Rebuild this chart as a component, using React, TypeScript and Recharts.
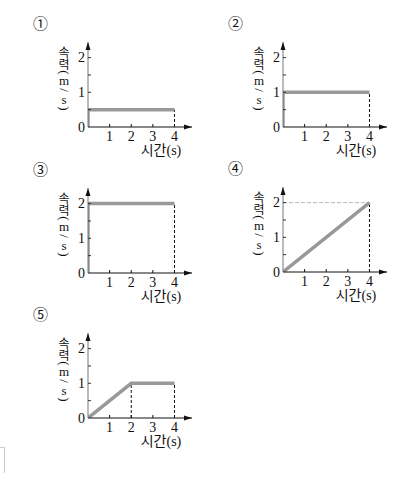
import React from "react";
import { LineChart, Line, XAxis, YAxis, ReferenceLine } from "recharts";

// speed-time graphs, t in seconds, v in m/s
const times1 = [0, 0, 4];
const speeds1 = [0, 0.5, 0.5];
const times2 = [0, 0, 4];
const speeds2 = [0, 1, 1];
const times3 = [0, 0, 4];
const speeds3 = [0, 2, 2];
const times4 = [0, 4];
const speeds4 = [0, 2];
const times5 = [0, 2, 4];
const speeds5 = [0, 1, 1];

const xTicks = [1, 2, 3, 4];
const yTicks = [0, 0.5, 1, 1.5, 2];
const X_MAX = 4.81;
const Y_MAX = 2.45;

const yLabelChars = ["속", "력", "(", "m", "/", "s", ")"];
const yLabelOffsets = [-76, -63.5, -54.5, -46.5, -37, -28, -18.5];

const SERIF = "'Liberation Serif', 'DejaVu Serif', 'Noto Sans CJK KR', serif";

const toRows = (t: number[], v: number[]) => t.map((x, i) => ({ t: x, v: v[i] }));

const XTick = (props: any) => {
  const { x, y, payload } = props;
  if (payload.value === X_MAX) {
    return (
      <g>
        <path d={`M${x} ${y} L${x - 8} ${y - 2.5} L${x - 8} ${y + 2.5} Z`} fill="#111" />
        <text x={x - 31} y={y + 28} textAnchor="middle" fontSize={14} style={{ fontFamily: SERIF }} fill="#111">
          시간(s)
        </text>
      </g>
    );
  }
  return (
    <g>
      <line x1={x} y1={y - 3} x2={x} y2={y} stroke="#111" />
      <text x={x} y={y + 14} textAnchor="middle" fontSize={14} style={{ fontFamily: SERIF }} fill="#111">
        {payload.value}
      </text>
    </g>
  );
};

const YTick = (props: any) => {
  const { x, y, payload } = props;
  const v = payload.value;
  if (v === Y_MAX) {
    const lx = x - 24;
    const oy = y + 85;
    return (
      <g>
        <path d={`M${x} ${y} L${x - 2.5} ${y + 8} L${x + 2.5} ${y + 8} Z`} fill="#111" />
        {yLabelChars.map((c, i) => {
          const cy = oy + yLabelOffsets[i];
          const rot = c === "(" || c === ")" || c === "/";
          const kor = /[가-힣]/.test(c);
          return (
            <text
              key={i}
              x={lx}
              y={cy}
              textAnchor="middle"
              dominantBaseline="central"
              fontSize={kor ? 12 : 13}
              style={{ fontFamily: kor ? "'Noto Sans CJK KR'" : SERIF }}
              fill="#111"
              transform={rot ? `rotate(90 ${lx} ${cy})` : undefined}
            >
              {c}
            </text>
          );
        })}
      </g>
    );
  }
  return (
    <g>
      {v > 0 && <line x1={x} y1={y} x2={x + 3} y2={y} stroke="#333" />}
      {Number.isInteger(v) && (
        <text x={x - 3} y={y + 4.5} textAnchor="end" fontSize={14} style={{ fontFamily: SERIF }} fill="#111">
          {v}
        </text>
      )}
    </g>
  );
};

type PanelProps = {
  title: string;
  ox: number;
  oy: number;
  rows: { t: number; v: number }[];
  drops: number[][];
  level?: number;
};

const Panel = ({ title, ox, oy, rows, drops, level }: PanelProps) => (
  <>
    <div
      style={{
        position: "absolute",
        left: ox - 55,
        top: oy - 112,
        fontSize: 15,
        lineHeight: 1,
        fontFamily: "'Noto Sans CJK KR'",
        color: "#111",
      }}
    >
      {title}
    </div>
    <div style={{ position: "absolute", left: ox - 88, top: oy - 127 }}>
      <LineChart width={200} height={170} data={rows} margin={{ top: 42, right: 8, left: 68, bottom: 23 }}>
        <XAxis
          type="number"
          dataKey="t"
          domain={[0, X_MAX]}
          ticks={[...xTicks, X_MAX]}
          interval={0}
          height={20}
          tickSize={0}
          tickMargin={0}
          tickLine={false}
          axisLine={{ stroke: "#111" }}
          tick={<XTick />}
          allowDataOverflow
        />
        <YAxis
          type="number"
          domain={[0, Y_MAX]}
          ticks={[...yTicks, Y_MAX]}
          interval={0}
          width={20}
          tickSize={0}
          tickMargin={0}
          tickLine={false}
          axisLine={{ stroke: "#777" }}
          tick={<YTick />}
          allowDataOverflow
        />
        {level !== undefined && (
          <ReferenceLine
            segment={[{ x: 0, y: level }, { x: 4, y: level }]}
            stroke="#bbb"
            strokeDasharray="4 2"
          />
        )}
        {drops.map(([t, v], i) => (
          <ReferenceLine
            key={i}
            segment={[{ x: t, y: 0 }, { x: t, y: v }]}
            stroke="#111"
            strokeDasharray="3 2"
          />
        ))}
        <Line
          type="linear"
          dataKey="v"
          stroke="#999"
          strokeWidth={3.5}
          dot={false}
          isAnimationActive={false}
        />
      </LineChart>
    </div>
  </>
);

export default function App() {
  return (
    <div style={{ position: "absolute", left: 0, top: 0, width: 405, height: 479, background: "#fff" }}>
      <Panel title="①" ox={88} oy={127} rows={toRows(times1, speeds1)} drops={[[4, 0.5]]} />
      <Panel title="②" ox={283} oy={127} rows={toRows(times2, speeds2)} drops={[[4, 1]]} />
      <Panel title="③" ox={88} oy={273} rows={toRows(times3, speeds3)} drops={[[4, 2]]} />
      <Panel title="④" ox={283} oy={272} rows={toRows(times4, speeds4)} drops={[[4, 2]]} level={2} />
      <Panel title="⑤" ox={88} oy={418} rows={toRows(times5, speeds5)} drops={[[2, 1], [4, 1]]} />
      <div
        style={{
          position: "absolute",
          left: 0,
          top: 447,
          width: 4,
          height: 25,
          borderTop: "1px solid #ccc",
          borderRight: "1px solid #ccc",
        }}
      />
    </div>
  );
}
